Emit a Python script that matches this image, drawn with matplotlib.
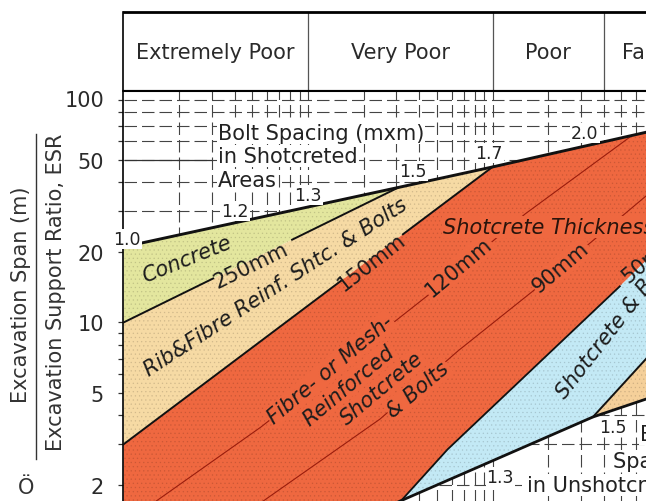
import numpy as np
import matplotlib
matplotlib.use("Agg")
import matplotlib.pyplot as plt
from matplotlib.lines import Line2D

plt.rcParams['font.family'] = ['DejaVu Sans']
plt.rcParams['lines.scale_dashes'] = False
plt.rcParams['hatch.linewidth'] = 0.4

# ---------------- data ----------------
# Rock mass quality classes along Q
CLASS_EDGES = [0.01, 0.1, 1, 4, 10]
CLASS_NAMES = ["Extremely Poor", "Very Poor", "Poor", "Fair"]

# Labelled span/ESR ticks
SPAN_TICKS = [2, 5, 10, 20, 50]
SPAN_MINOR = [3, 4, 6, 7, 8, 9, 30, 40, 60, 70, 80, 90]

# Support-category boundaries (Q, span/ESR)
TOP_Q = [0.01, 0.31, 1.0, 5.56, 40]
TOP_S = [21.1, 38.0, 46.5, 63.2, 90]
CONC_Q = [0.01, 0.31]
CONC_S = [10.0, 38.0]
RIB_Q = [0.01, 1.0]
RIB_S = [3.0, 46.5]
FRS_Q = [0.32, 0.57, 4.9, 40]
FRS_S = [1.72, 2.85, 14.3, 72.9]
LOW_Q = [0.0664, 0.32, 3.5, 6.79, 40]
LOW_S = [1.0, 1.72, 3.93, 4.69, 7.57]
SB_Q = [3.5, 40]
SB_S = [3.93, 32.4]

# Shotcrete thickness contours
T120_Q = [0.0123, 0.015, 0.0556, 0.47, 1.50, 5.56]
T120_S = [1.54, 1.71, 3.56, 13.5, 29.2, 62.5]
T90_Q = [0.0456, 0.057, 0.2456, 0.650, 1.658, 6.79, 10]
T90_S = [1.51, 1.71, 3.85, 7.55, 13.65, 34.9, 45]

# Bolt spacing (m x m)
SHOT_SPACING = ["1.0", "1.2", "1.3", "1.5", "1.7", "2.0"]
SHOT_Q = [0.01045, 0.0402, 0.1, 0.371, 0.957, 3.17]
SHOT_S = [22.8, 30.1, 35.2, 44.7, 53.4, 65.0]
UNSHOT_SPACING = ["1.3", "1.5"]
UNSHOT_Q = [1.10, 4.50]
UNSHOT_S = [2.17, 3.56]

# ---------------- colours ----------------
C_CONC = '#E3E69E'
C_RIB = '#F6DAA4'
C_FRS = '#EF6840'
C_SB = '#C3E9F5'
C_SYS = '#F5D09A'
INK = '#1c1c1c'


def along(qs, ss, q):
    return 10 ** np.interp(np.log10(q), np.log10(qs), np.log10(ss))


def darker(c, f=0.85):
    r, g, b = matplotlib.colors.to_rgb(c)
    return (r * f, g * f, b * f)


W, H = 646, 502
fig = plt.figure(figsize=(W / 100, H / 100), dpi=100)
fig.patch.set_facecolor('white')

x0, xw = 123.5, 922.5
top_px, bot_px, head_px = 92, 556.5, 13

# header band with quality classes
hx = fig.add_axes([x0 / W, 1 - top_px / H, xw / W, (top_px - head_px) / H])
hx.set_xscale('log')
hx.set_xlim(0.01, 1000)
hx.set_ylim(0, 1)
hx.set_xticks([])
hx.set_yticks([])
hx.minorticks_off()
hx.spines['right'].set_visible(False)
hx.spines['top'].set_linewidth(2.0)
hx.spines['left'].set_linewidth(1.2)
hx.spines['bottom'].set_linewidth(1.5)
for e in CLASS_EDGES[1:]:
    hx.axvline(e, color='#555555', lw=0.9)
for a, b, name in zip(CLASS_EDGES[:-1], CLASS_EDGES[1:], CLASS_NAMES):
    hx.text(np.sqrt(a * b), 0.5, name, ha='center', va='center',
            fontsize=15, color='#2a2a2a')

# main support chart
ax = fig.add_axes([x0 / W, 1 - bot_px / H, xw / W, (bot_px - top_px) / H])
ax.set_xscale('log')
ax.set_yscale('log')
ax.set_xlim(0.01, 1000)
ax.set_ylim(1, 98.5)
for s in ['right', 'bottom']:
    ax.spines[s].set_visible(False)
ax.spines['left'].set_linewidth(1.2)
ax.spines['top'].set_linewidth(1.5)
ax.set_xticks([])
ax.set_xticks([], minor=True)
ax.set_yticks(SPAN_TICKS)
ax.set_yticklabels([str(t) for t in SPAN_TICKS])
ax.set_yticks(SPAN_MINOR, minor=True)
ax.yaxis.set_minor_formatter(matplotlib.ticker.NullFormatter())
ax.tick_params(axis='y', which='both', direction='out', length=3.6,
               width=0.9, color='#333333')
ax.tick_params(axis='y', which='major', pad=10.4, labelsize=15,
               labelcolor='#2a2a2a')
ax.annotate('100', xy=(0, 90), xycoords=('axes fraction', 'data'),
            xytext=(-14, 0), textcoords='offset points',
            ha='right', va='center', fontsize=15, color='#2a2a2a')

# dashed reference grid
dash = (0, (9, 3.6))
grid_q = [k * 10.0 ** n for n in range(-2, 3) for k in range(1, 10)][1:]
grid_s = [k * 10.0 ** n for n in range(0, 2) for k in range(2, 10)]
ax.hlines(grid_s, 0.01, 1000, colors='#444444', linewidth=0.8,
          linestyles=[dash], zorder=1)
ax.vlines(grid_q, 1, 98.5, colors='#444444', linewidth=0.8,
          linestyles=[dash], zorder=1)
ax.hlines([50], 0.01, 0.03, colors='#333333', linewidth=0.9, zorder=1)


# support-category areas
def poly(qs, ss, color, hatch='....'):
    ax.fill(qs, ss, facecolor=color, edgecolor=darker(color), hatch=hatch,
            linewidth=0, zorder=2)


poly(TOP_Q[:2] + CONC_Q[::-1], TOP_S[:2] + CONC_S[::-1], C_CONC)
poly(CONC_Q + TOP_Q[1:3] + RIB_Q[::-1], CONC_S + TOP_S[1:3] + RIB_S[::-1], C_RIB)
poly(RIB_Q + TOP_Q[2:] + FRS_Q[::-1] + [LOW_Q[0], 0.01],
     RIB_S + TOP_S[2:] + FRS_S[::-1] + [LOW_S[0], 1.0], C_FRS)
poly(FRS_Q + SB_Q[::-1], FRS_S + SB_S[::-1], C_SB)
poly(SB_Q + LOW_Q[2:][::-1], SB_S + LOW_S[2:][::-1], C_SYS)

# shotcrete thickness contours
ax.plot(T120_Q, T120_S, color='#9a1c0c', lw=0.8, zorder=3)
ax.plot(T90_Q, T90_S, color='#9a1c0c', lw=0.8, zorder=3)

# boundary lines
ax.plot(TOP_Q, TOP_S, color='#111111', lw=2.1, zorder=4,
        solid_capstyle='butt')
ax.plot(LOW_Q, LOW_S, color='#111111', lw=2.0, zorder=4)
for qa, qb in [(0.01, 0.0306), (0.082, 0.31)]:
    qq = np.array([qa, qb])
    ax.plot(qq, along(CONC_Q, CONC_S, qq), color='#111111', lw=1.4, zorder=4)
for qa, qb in [(0.01, 0.151), (0.327, 1.0)]:
    qq = np.array([qa, qb])
    ax.plot(qq, along(RIB_Q, RIB_S, qq), color='#111111', lw=1.4, zorder=4)
ax.plot(FRS_Q[:3], FRS_S[:3], color='#111111', lw=1.3, zorder=4)
ax.plot(SB_Q, SB_S, color='#111111', lw=1.4, zorder=4)


def label(s, q, sp, rot=0, size=15, style='normal', face=None,
          ha='center', va='center', color=INK):
    kw = {}
    if face is not None:
        kw['bbox'] = dict(boxstyle='square,pad=0.05', facecolor=face,
                          edgecolor='none')
    ax.text(q, sp, s, rotation=rot, rotation_mode='anchor', ha=ha, va=va,
            fontsize=size, fontstyle=style, color=color, zorder=6, **kw)


# support category names
label("Concrete", 0.0221, 18.7, rot=22, style='italic')
label("Rib&Fibre Reinf. Shtc. & Bolts", 0.0671, 14.2, rot=33, style='italic')
label("250mm", 0.0491, 17.7, rot=26)
label("150mm", 0.222, 18.2, rot=38)
for txt, q, sp in [("Fibre- or Mesh-", 0.1316, 6.32),
                   ("Reinforced", 0.1658, 5.39),
                   ("Shotcrete", 0.252, 5.24),
                   ("& Bolts", 0.395, 5.18)]:
    label(txt, q, sp, rot=40, style='italic', face=C_FRS)
label("120mm", 0.658, 17.3, rot=40, face=C_FRS)
label("90mm", 2.35, 17.3, rot=40, face=C_FRS)
label("50mm", 7.14, 19.1, rot=40)
label("Shotcrete Thickness", 0.539, 25.7, style='italic', face=C_FRS,
      ha='left', color='#2a140c')
label("Shotcrete & Bolts", 2.47, 4.69, rot=52, style='italic',
      ha='left', va='baseline')

# bolt spacing notes
for txt, sp in [("Bolt Spacing (mxm)", 65.1), ("in Shotcreted", 51.8),
                ("Areas", 40.9)]:
    label(txt, 0.0325, sp, face='white', ha='left', color='#222222')
for txt, q, sp in [("Bolt", 6.30, 3.32), ("Spacing (mxm)", 4.50, 2.54),
                   ("in Unshotcreted Areas", 1.54, 2.01)]:
    label(txt, q, sp, face='white', ha='left', color='#222222')
for txt, q, sp in zip(SHOT_SPACING, SHOT_Q, SHOT_S):
    label(txt, q, sp, size=12.5, face='white', color='#222222')
for txt, q, sp in zip(UNSHOT_SPACING, UNSHOT_Q, UNSHOT_S):
    label(txt, q, sp, size=12.5, face='white', color='#222222')

# y-axis title as a fraction
fig.text(21 / W, 1 - 294.5 / H, "Excavation Span (m)", rotation=90,
         ha='center', va='center', fontsize=15, color='#333333')
fig.text(56 / W, 1 - 292.5 / H, "Excavation Support Ratio, ESR", rotation=90,
         ha='center', va='center', fontsize=15, color='#333333')
fig.add_artist(Line2D([36 / W, 36 / W], [1 - 135 / H, 1 - 460 / H],
                      transform=fig.transFigure, color='#333333', lw=1.0))
fig.text(26 / W, 1 - 488 / H, "Ö", ha='center', va='center',
         fontsize=15, color='#333333')

fig.savefig("out.png", dpi=100)
